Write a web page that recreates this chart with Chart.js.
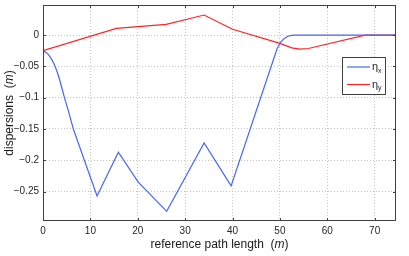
<!DOCTYPE html>
<html lang="en">
<head>
  <meta charset="UTF-8">
  <title>Dispersions</title>
  <script src="https://cdn.jsdelivr.net/npm/chart.js"></script>
  <style>
    html, body { margin: 0; padding: 0; background: #fff; }
    #wrap { width: 409px; height: 256px; }
  </style>
</head>
<body>
  <div id="wrap"><canvas id="myChart" width="409" height="256"></canvas></div>

  <script>
    // eta_x (blue)
    const sBlue = [0, 0.5, 1, 1.5, 2, 2.5, 3, 3.5, 4, 4.5, 5.5, 6.4, 11.4, 15.9, 20.1, 26.1, 34.0, 39.7, 49.4, 50.2, 51.0, 51.8, 52.8, 74.5];
    const etaX  = [-0.025, -0.027, -0.030, -0.035, -0.041, -0.049, -0.059, -0.071, -0.085, -0.099, -0.125, -0.150, -0.257, -0.187, -0.235, -0.2816, -0.1723, -0.241, -0.022, -0.011, -0.005, -0.0015, 0, 0];

    // eta_y (red)
    const sRed = [0, 15.5, 26.0, 34.0, 40.0, 50.0, 52.5, 54.2, 56.0, 68.0, 74.5];
    const etaY = [-0.025, 0.0107, 0.0171, 0.032, 0.0093, -0.0133, -0.0205, -0.0225, -0.0215, 0, 0];

    const xTicks = [0, 10, 20, 30, 40, 50, 60, 70];
    const yTicks = [0, -0.05, -0.1, -0.15, -0.2, -0.25];

    const seriesNames = ['x', 'y'];
    const seriesColors = ['#4565ff', '#ff2424'];

    const toPts = (xs, ys) => xs.map((x, i) => ({ x: x, y: ys[i] }));

    // box, inward ticks, legend and axis titles (matlab look)
    const matlabAxes = {
      id: 'matlabAxes',
      afterDraw(chart) {
        const ctx = chart.ctx;
        const a = chart.chartArea;
        const xs = chart.scales.x, ys = chart.scales.y;
        ctx.save();
        ctx.strokeStyle = '#404040';
        ctx.lineWidth = 1;
        ctx.strokeRect(Math.round(a.left) + 0.5, Math.round(a.top) + 0.5,
          Math.round(a.right - a.left) - 1, Math.round(a.bottom - a.top) - 1);

        ctx.beginPath();
        xTicks.forEach(v => {
          const px = Math.round(xs.getPixelForValue(v)) + 0.5;
          ctx.moveTo(px, a.bottom); ctx.lineTo(px, a.bottom - 3);
          ctx.moveTo(px, a.top); ctx.lineTo(px, a.top + 3);
        });
        yTicks.forEach(v => {
          const py = Math.round(ys.getPixelForValue(v)) + 0.5;
          ctx.moveTo(a.left, py); ctx.lineTo(a.left + 3, py);
          ctx.moveTo(a.right, py); ctx.lineTo(a.right - 3, py);
        });
        ctx.stroke();

        // legend
        const lx = 342, ly = 57, lw = 43, lh = 37;
        ctx.fillStyle = '#fff';
        ctx.fillRect(lx, ly, lw, lh);
        ctx.strokeStyle = '#404040';
        ctx.strokeRect(lx + 0.5, ly + 0.5, lw, lh);
        seriesNames.forEach((n, i) => {
          const yy = ly + 10 + i * 17.5;
          ctx.strokeStyle = seriesColors[i];
          ctx.lineWidth = 1.2;
          ctx.beginPath();
          ctx.moveTo(lx + 5, yy); ctx.lineTo(lx + 28, yy);
          ctx.stroke();
          ctx.fillStyle = '#262626';
          ctx.textBaseline = 'middle';
          ctx.textAlign = 'left';
          ctx.font = '11px "Liberation Sans", Arial, sans-serif';
          ctx.fillText('η', lx + 30, yy);
          ctx.font = '7px "Liberation Sans", Arial, sans-serif';
          ctx.fillText(n, lx + 36, yy + 4);
        });

        // axis titles with italic unit
        const drawParts = (parts, cx, cy) => {
          let w = 0;
          parts.forEach(p => { ctx.font = p[1]; w += ctx.measureText(p[0]).width; });
          let x = cx - w / 2;
          ctx.textAlign = 'left';
          ctx.textBaseline = 'middle';
          ctx.fillStyle = '#1a1a1a';
          parts.forEach(p => { ctx.font = p[1]; ctx.fillText(p[0], x, cy); x += ctx.measureText(p[0]).width; });
        };
        const nf = '12px "Liberation Sans", Arial, sans-serif';
        const itf = 'italic 12px "Liberation Sans", Arial, sans-serif';
        drawParts([['reference path length  (', nf], ['m', itf], [')', nf]], (a.left + a.right) / 2, 245);
        ctx.translate(10, (a.top + a.bottom) / 2);
        ctx.rotate(-Math.PI / 2);
        drawParts([['dispersions  (', nf], ['m', itf], [')', nf]], 0, 0);
        ctx.restore();
      }
    };

    const ctx = document.getElementById('myChart').getContext('2d');
    new Chart(ctx, {
      type: 'scatter',
      data: {
        datasets: [
          { label: 'eta_x', data: toPts(sBlue, etaX), borderColor: seriesColors[0] },
          { label: 'eta_y', data: toPts(sRed, etaY), borderColor: seriesColors[1] }
        ]
      },
      options: {
        responsive: false,
        animation: false,
        showLine: true,
        elements: {
          point: { radius: 0 },
          line: { borderWidth: 1.2, tension: 0, fill: false }
        },
        layout: { padding: { top: 5, right: 13, left: 0, bottom: 0 } },
        plugins: { legend: { display: false }, tooltip: { enabled: false } },
        scales: {
          x: {
            type: 'linear', min: 0, max: 74.5,
            afterBuildTicks: s => { s.ticks = xTicks.map(v => ({ value: v })); },
            afterFit: s => { s.height = 35; s.paddingLeft = 0; s.paddingRight = 0; },
            grid: { color: '#c4c4c4', drawTicks: false, lineWidth: 1 },
            border: { display: false, dash: [1, 2] },
            ticks: { padding: 4, color: '#262626', font: { family: '"Liberation Sans", Arial, sans-serif', size: 10 } }
          },
          y: {
            type: 'linear', min: -0.297, max: 0.048,
            afterBuildTicks: s => { s.ticks = yTicks.map(v => ({ value: v })); },
            afterFit: s => { s.width = 43; s.paddingTop = 0; s.paddingBottom = 0; },
            grid: { color: '#c4c4c4', drawTicks: false, lineWidth: 1 },
            border: { display: false, dash: [1, 2] },
            ticks: {
              padding: 4, color: '#262626',
              font: { family: '"Liberation Sans", Arial, sans-serif', size: 10 },
              callback: v => v === 0 ? '0' : '\u2212' + Math.abs(v)
            }
          }
        }
      },
      plugins: [matlabAxes]
    });
  </script>
</body>
</html>
